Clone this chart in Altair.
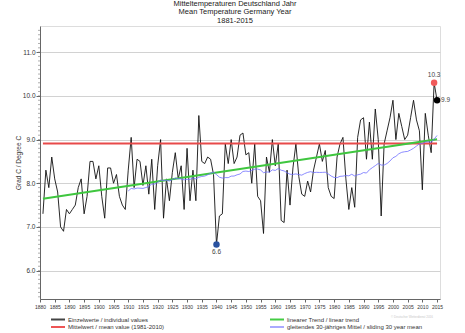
import altair as alt
import pandas as pd

# ---------------- data ----------------
years = list(range(1881, 2016))
temps = [
    7.3, 8.3, 7.9, 8.6, 8.1, 7.8, 7.0, 6.9, 7.4, 7.3,      # 1881-1890
    7.4, 7.5, 7.9, 8.1, 7.3, 7.7, 8.5, 8.5, 8.1, 8.4,      # 1891-1900
    7.7, 7.2, 8.35, 8.35, 8.0, 8.2, 7.7, 7.5, 7.4, 8.3,    # 1901-1910
    9.05, 7.9, 8.55, 8.5, 7.95, 8.4, 7.75, 8.55, 7.4, 8.4, # 1911-1920
    9.0, 7.2, 8.1, 7.6, 8.25, 8.7, 8.1, 8.4, 7.4, 8.8,     # 1921-1930
    7.6, 8.3, 7.6, 9.55, 8.5, 8.45, 8.6, 8.55, 8.2, 6.6,   # 1931-1940
    7.25, 7.3, 8.9, 8.45, 9.0, 8.45, 8.6, 9.1, 9.15, 8.65, # 1941-1950
    8.7, 8.0, 8.9, 7.7, 7.6, 6.85, 8.6, 8.25, 9.0, 8.4,    # 1951-1960
    8.9, 7.15, 7.1, 8.3, 7.5, 8.35, 8.9, 8.15, 7.75, 7.7,  # 1961-1970
    8.05, 7.8, 8.3, 8.6, 8.9, 8.5, 8.75, 7.9, 7.7, 7.65,   # 1971-1980
    8.6, 8.9, 9.05, 8.1, 7.4, 7.9, 7.45, 9.05, 9.45, 9.5,  # 1981-1990
    8.55, 9.4, 8.55, 9.7, 9.0, 7.25, 8.9, 9.2, 9.5, 9.9,   # 1991-2000
    9.0, 9.6, 9.3, 9.0, 9.1, 9.5, 9.9, 9.45, 9.2, 7.85,    # 2001-2010
    9.6, 9.1, 8.7, 10.3, 9.9,                              # 2011-2015
]
x_tick_years = list(range(1880, 2016, 5))
y_major_ticks = [6.0, 7.0, 8.0, 9.0, 10.0, 11.0]
y_minor_ticks = [round(5.4 + 0.1 * i, 1) for i in range(62)]

title_lines = ["Mitteltemperaturen Deutschland Jahr",
               "Mean Temperature Germany Year",
               "1881-2015"]
y_title = "Grad C / Degree C"
legend_labels = ["Einzelwerte / individual values",
                 "Mittelwert / mean value (1981-2010)",
                 "linearer Trend / linear trend",
                 "gleitendes 30-jähriges Mittel / sliding 30 year mean"]
legend_colors = ["#444444", "#ee5555", "#44cc44", "#aaaaff"]
credit = "© Deutscher Wetterdienst 2016"

C_LINE = "#111111"
C_MEAN = "#e84a4a"
C_TREND = "#3fc63f"
C_ROLL = "#6f6fff"
C_MAX = "#f05a5a"
C_MIN = "#2a52a0"
C_LAST = "#000000"

FONT = "Liberation Sans"
W, H = 400, 273

df = pd.DataFrame({"Jahr": years, "Temp": temps})

xs = alt.Scale(domain=[1880, 2016], nice=False, zero=False)
ys = alt.Scale(domain=[5.35, 11.6], nice=False, zero=False)

x_axis = alt.Axis(values=x_tick_years, format="d", title=None, grid=False,
                  labelFontSize=5, labelFont=FONT, labelColor="#333",
                  tickSize=3, tickColor="#666", domainColor="#666",
                  labelPadding=2, labelAngle=0, labelOverlap=False,
                  labelSeparation=0, labelFlush=False)
y_axis = alt.Axis(values=y_major_ticks, format=".1f", title=y_title,
                  grid=True, gridColor="#d2d2d2", gridWidth=1.2,
                  labelFontSize=6.5, labelFont=FONT, labelColor="#333",
                  titleFontSize=6.5, titleFont=FONT, titleFontWeight="normal",
                  titleColor="#333", titlePadding=1,
                  tickSize=4, tickColor="#666", domainColor="#666",
                  labelPadding=1)

base = alt.Chart(df)

minor = alt.Chart(pd.DataFrame({"v": y_minor_ticks})).mark_rule(
    color="#777", strokeWidth=0.6
).encode(y=alt.Y("v:Q", scale=ys, axis=y_axis), x=alt.value(-2), x2=alt.value(0))

mean_line = base.transform_filter(
    "datum.Jahr >= 1981 && datum.Jahr <= 2010"
).transform_aggregate(m="mean(Temp)").mark_rule(
    color=C_MEAN, strokeWidth=2
).encode(x=alt.X(datum=1881, scale=xs, axis=x_axis), x2=alt.datum(2015),
         y=alt.Y("m:Q", axis=y_axis))

trend = base.transform_regression("Jahr", "Temp").mark_line(
    color=C_TREND, strokeWidth=2
).encode(x=alt.X("Jahr:Q", axis=x_axis), y=alt.Y("Temp:Q", axis=y_axis))

rolling = base.transform_window(
    rm="mean(Temp)", frame=[-29, 0], sort=[alt.SortField("Jahr")]
).transform_filter("datum.Jahr >= 1910").mark_line(
    color=C_ROLL, strokeWidth=0.8
).encode(x=alt.X("Jahr:Q", axis=x_axis), y=alt.Y("rm:Q", axis=y_axis))

values_line = base.mark_line(color=C_LINE, strokeWidth=0.9).encode(
    x=alt.X("Jahr:Q", scale=xs, axis=x_axis),
    y=alt.Y("Temp:Q", scale=ys, axis=y_axis),
)

i_max = df["Temp"].idxmax()
i_min = df["Temp"].idxmin()
i_last = len(df) - 1

def dot(idx, color, dx, dy, align, baseline):
    d = df.iloc[[idx]]
    c = alt.Chart(d)
    enc = dict(x=alt.X("Jahr:Q", axis=x_axis), y=alt.Y("Temp:Q", axis=y_axis))
    p = c.mark_circle(color=color, size=42, opacity=1).encode(**enc)
    t = c.mark_text(font=FONT, fontSize=6.5, color="#444", dx=dx, dy=dy,
                    align=align, baseline=baseline).encode(
        text=alt.Text("Temp:Q", format=".1f"), **enc)
    return [p, t]

dots = (dot(i_max, C_MAX, 0, -5, "center", "bottom")
        + dot(i_min, C_MIN, 0, 5, "center", "top")
        + dot(i_last, C_LAST, 4, 0, "left", "middle"))

# manual legend, two columns x two rows
legend_layers = []
col_x = [11, 230]
row_y = [293.5, 301]
for i, (lab, col) in enumerate(zip(legend_labels, legend_colors)):
    cx = col_x[i // 2]
    ry = row_y[i % 2]
    ld = alt.Chart(pd.DataFrame({"label": [lab]}))
    legend_layers.append(ld.mark_rule(color=col, strokeWidth=2).encode(
        x=alt.value(cx), x2=alt.value(cx + 14), y=alt.value(ry)))
    legend_layers.append(ld.mark_text(font=FONT, fontSize=6, color="#333",
                                      align="left", baseline="middle").encode(
        x=alt.value(cx + 17), y=alt.value(ry), text="label:N"))

credit_layer = alt.Chart(pd.DataFrame({"t": [credit]})).mark_text(
    font=FONT, fontSize=3, color="#c8c8c8", align="center", baseline="middle"
).encode(x=alt.value(372), y=alt.value(290.5), text="t:N")

chart = alt.layer(
    values_line, minor, mean_line, trend, rolling, *dots,
    *legend_layers, credit_layer
).properties(
    width=W, height=H,
    autosize=alt.AutoSizeParams(type="none"),
    padding={"left": 40, "top": 26, "right": 25, "bottom": 34},
    title=alt.TitleParams(title_lines, fontSize=7.5, lineHeight=8.5, font=FONT,
                          fontWeight="normal", color="#222", anchor="middle",
                          offset=2, dx=-5),
).configure_view(stroke=None).configure(background="white").configure_axisX(
    labelOverlap=False, labelSeparation=0, labelFlush=False
)

chart.save("out.html", embed_options={"renderer": "svg", "actions": False})
